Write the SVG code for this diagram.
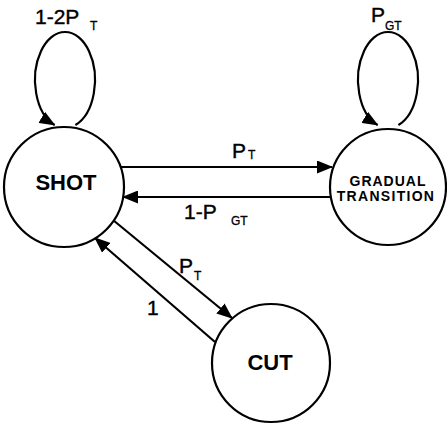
<svg xmlns="http://www.w3.org/2000/svg" width="447" height="427" viewBox="0 0 447 427">
<style>
.node{fill:#fff;stroke:#000;stroke-width:2.2}
.edge{fill:none;stroke:#000;stroke-width:2.2;marker-end:url(#ah)}
.nl{font-family:"Liberation Sans",Arial,sans-serif;font-weight:bold;fill:#000;text-anchor:middle}
.el{font-family:"Liberation Sans",Arial,sans-serif;fill:#000;stroke:#000;stroke-width:0.4;font-size:21px}
.sub{font-size:12px;stroke-width:0.3}
</style>
<defs>
<marker id="ah" markerUnits="userSpaceOnUse" viewBox="0 0 16 13" refX="15" refY="6.5" markerWidth="16" markerHeight="13" orient="auto">
<path d="M0,0 L16,6.5 L0,13 z" fill="#000"/>
</marker>
</defs>
<rect width="447" height="427" fill="#fff"/>
<g id="connectors">
<path class="edge" d="M75.4,125 A30 48 0 1 0 54.6,125"/>
<path class="edge" d="M398.4,125 A30 48 0 1 0 377.6,125"/>
<path class="edge" d="M121,167 L332,167"/>
<path class="edge" d="M331,197 L123,197"/>
<path class="edge" d="M113,220 L232,318"/>
<path class="edge" d="M215,342 L95,238"/>
</g>
<g id="shot">
<circle class="node" cx="64" cy="187" r="60"/>
<text class="nl" x="66" y="190" font-size="22">SHOT</text>
</g>
<g id="gradual">
<circle class="node" cx="388" cy="187" r="58"/>
<text class="nl" x="388" y="186" font-size="14" letter-spacing="1">GRADUAL</text>
<text class="nl" x="386" y="201" font-size="14" letter-spacing="1.3">TRANSITION</text>
</g>
<g id="cut">
<circle class="node" cx="271" cy="363" r="59"/>
<text class="nl" x="270" y="370" font-size="22">CUT</text>
</g>
<g id="labels">
<text class="el" x="35" y="24">1-2P</text>
<text class="el sub" x="90" y="30">T</text>
<text class="el" x="371" y="22">P</text>
<text class="el sub" x="385" y="30">GT</text>
<text class="el" x="232" y="158">P</text>
<text class="el sub" x="248" y="159">T</text>
<text class="el" x="184" y="219">1-P</text>
<text class="el sub" x="231" y="225">GT</text>
<text class="el" x="179" y="273">P</text>
<text class="el sub" x="194" y="280">T</text>
<text class="el" x="147" y="315">1</text>
</g>
</svg>
